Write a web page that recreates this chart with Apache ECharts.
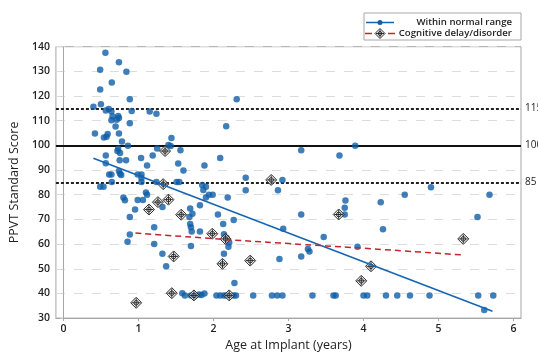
<!DOCTYPE html>
<html>
<head>
<meta charset="utf-8">
<script src="https://cdn.jsdelivr.net/npm/echarts@6/dist/echarts.min.js"></script>
<style>
  html, body { margin: 0; padding: 0; background: #fff; }
  #chart { width: 538px; height: 357px; }
</style>
</head>
<body>
<div id="chart"></div>
<script>
// PPVT standard score vs. age at cochlear implant, by cognitive status.

// Children within the normal cognitive range: [age (years), PPVT score]
const normalRange = [
  [0.56,137.5],[0.74,133.7],[0.49,130.7],[0.84,129.8],[0.645,125.5],[0.49,122.7],
  [0.885,118.7],[0.40,115.7],[0.50,116.7],[0.565,114.1],[0.605,114.8],[0.64,113.7],
  [0.91,113.9],[1.15,113.7],[1.24,112.8],[0.655,111.7],[0.73,111.9],[0.74,111.1],
  [0.64,110.2],[0.71,110.4],[0.695,107.7],[0.885,109],[0.42,104.8],[0.54,103.2],
  [0.575,103.5],[0.59,104.6],[0.74,104.8],[0.78,101.6],[0.86,99.9],[1.44,103],
  [1.40,100.2],[1.43,99.8],[1.25,98.7],[1.56,98],[0.73,98.6],[0.72,97.7],[0.755,96.9],
  [0.565,95.9],[1.035,94.9],[1.19,95.9],[2.09,94.9],[0.565,92.8],[0.75,94],[0.835,94],
  [1.115,91.9],[1.53,92.7],[1.88,91.9],[1.6,89.8],[0.61,88.2],[0.64,88.2],[0.74,89.6],
  [0.755,88.5],[0.77,88],[0.99,88.2],[1.04,88.2],[1.04,86.8],[1.04,85.2],[0.645,85.2],
  [0.49,83.2],[0.535,83.2],[1.24,85.2],[1.51,85.2],[1.545,85.2],[1.85,83.9],[1.9,83.2],
  [1.865,81.9],[1.99,80],[1.94,80],[2.19,78.9],[1.1,80.9],[1.115,80],[0.8,78.9],
  [0.82,77.8],[0.99,77.9],[1.06,77.9],[1.32,75],[1.9,78.9],[0.955,74],[0.885,71],
  [1.69,74.4],[1.72,72.3],[1.68,71],[1.82,75.7],[2.06,72],[1.69,68.1],[1.70,66.8],
  [1.71,65.1],[2.13,68.1],[2.27,69.8],[1.82,65.1],[1.21,66.8],[0.885,63.9],[0.855,60.9],
  [1.21,60],[1.70,59.2],[2.14,64],[2.175,62.6],[2.21,60.6],[2.2,58.9],[1.32,56.1],
  [1.37,51],[2.14,56.1],[2.28,44.2],[2.31,118.7],[2.17,107.8],[3.17,98],[3.68,95.9],
  [3.89,99.9],[2.43,86.9],[2.92,86],[2.86,81.8],[2.43,81.8],[3.17,72],[2.93,66.2],
  [2.88,54],[3.17,55],[3.26,58],[3.28,57],[3.47,62.9],[3.75,72],[3.75,74.7],[3.76,77.7],
  [3.92,58.9],[4.23,77],[4.9,83],[4.55,80],[5.68,80],[5.52,71],[4.26,66],[5.61,33.3],
  [1.585,40.1],[1.62,39.2],[1.70,39.2],[1.76,39.2],[1.81,39.6],[1.84,39.4],[1.88,40],
  [2.04,39.2],[2.09,39.2],[2.14,39.2],[2.175,39.2],[2.27,39.2],[2.3,39.2],[2.53,39.2],
  [2.78,39.2],[2.85,39.2],[2.92,39.2],[3.32,39.2],[3.6,39.2],[3.63,39.2],[4.0,39.2],
  [4.05,39.2],[4.3,39.2],[4.45,39.2],[4.62,39.2],[4.88,39.2],[5.53,39.2],[5.73,39.2]
];

// Children with a cognitive delay or disorder
const cognitiveDelay = [
  [1.355,97.7],[1.33,84.3],[1.26,77],[1.40,78],[1.14,74],[1.57,71.9],[1.47,55],
  [1.445,40.1],[0.97,36.2],[1.74,39.2],[2.21,39.2],[1.985,64.2],[2.16,62.1],[2.12,52],
  [2.49,53.3],[2.77,86],[3.67,72],[4.1,51],[3.97,45.1],[5.33,62.1]
];

// Fitted trend for each group
const normalFit = [[0.40,94.8],[5.72,32.8]];
const delayFit = [[0.96,64.5],[2.0,62.2],[3.0,60.2],[4.0,58.3],[5.32,55.6]];

// Reference scores: mean and +/- 1 SD
const refLines = [115, 100, 85];

const xTicks = [0, 1, 2, 3, 4, 5, 6];

const BLUE = '#0f5ea8';
const RED = '#c0272d';
const INK = '#2a2a2a';
const FONT = '"Open Sans", "DejaVu Sans", sans-serif';

const chart = echarts.init(document.getElementById('chart'), null, { renderer: 'canvas' });

// diamond-with-crosshair glyph drawn with the renderer's primitives
function crossDiamond(cx, cy, r, ring) {
  return [
    { type: 'polygon', shape: { points: [[cx, cy - r], [cx + r, cy], [cx, cy + r], [cx - r, cy]] },
      style: { fill: 'rgba(255,255,255,0.55)', stroke: INK, lineWidth: 1 } },
    { type: 'line', shape: { x1: cx, y1: cy - r + 1, x2: cx, y2: cy + r - 1 }, style: { stroke: INK, lineWidth: 1 } },
    { type: 'line', shape: { x1: cx - r + 1, y1: cy, x2: cx + r - 1, y2: cy }, style: { stroke: INK, lineWidth: 1 } },
    { type: 'circle', shape: { cx: cx, cy: cy, r: ring }, style: { fill: 'none', stroke: INK, lineWidth: 1 } }
  ];
}

chart.setOption({
  animation: false,
  backgroundColor: '#fff',
  textStyle: { fontFamily: FONT },
  grid: {
    left: 55, right: 17, top: 46.7, bottom: 32,
    show: true, borderColor: '#a6a6a6', borderWidth: 1
  },
  xAxis: {
    type: 'value',
    min: -0.1, max: 6.1,
    name: 'Age at Implant (years)',
    nameLocation: 'middle',
    nameGap: 19,
    nameTextStyle: { fontSize: 12.5, color: '#222', fontWeight: 500, fontFamily: FONT },
    axisLine: { show: true, lineStyle: { color: '#a6a6a6' } },
    axisTick: { show: true, length: 3, lineStyle: { color: '#a6a6a6' }, customValues: xTicks },
    axisLabel: { color: '#222', fontSize: 10.5, fontWeight: 600, margin: 5, customValues: xTicks },
    splitLine: { show: false }
  },
  yAxis: {
    type: 'value',
    min: 30, max: 140, interval: 10,
    name: 'PPVT Standard Score',
    nameLocation: 'middle',
    nameGap: 32,
    nameTextStyle: { fontSize: 12.5, color: '#222', fontWeight: 500, fontFamily: FONT },
    axisLine: { show: true, lineStyle: { color: '#a6a6a6' } },
    axisTick: { show: true, length: 3, lineStyle: { color: '#d0d0d0' } },
    axisLabel: { color: '#222', fontSize: 10.5, fontWeight: 600, margin: 6 },
    splitLine: { show: true, lineStyle: { color: '#dcdcdc', type: [9, 9], width: 1 } }
  },
  series: [
    {
      name: 'Within normal range',
      type: 'scatter',
      data: normalRange,
      symbol: 'circle',
      symbolSize: 6.5,
      itemStyle: { color: BLUE },
      z: 3,
      markLine: {
        silent: true,
        symbol: 'none',
        data: refLines.map(v => ({
          yAxis: v,
          lineStyle: v === 100
            ? { color: '#111', width: 2, type: 'solid' }
            : { color: '#222', width: 2, type: [3, 2] }
        })),
        label: {
          show: true, position: 'end', distance: 4,
          color: '#222', fontSize: 10, fontFamily: FONT,
          formatter: p => String(p.value)
        },
        z: 1
      }
    },
    {
      name: 'Cognitive delay/disorder',
      type: 'custom',
      data: cognitiveDelay,
      renderItem: (params, api) => {
        const p = api.coord([api.value(0), api.value(1)]);
        return { type: 'group', children: crossDiamond(p[0], p[1], 5.5, 2.3) };
      },
      encode: { x: 0, y: 1 },
      z: 4
    },
    {
      name: 'normal-fit',
      type: 'line',
      data: normalFit,
      showSymbol: false,
      lineStyle: { color: '#1565b5', width: 1.5 },
      z: 5
    },
    {
      name: 'delay-fit',
      type: 'line',
      data: delayFit,
      showSymbol: false,
      smooth: true,
      lineStyle: { color: RED, width: 1.5, type: [6, 4] },
      z: 5
    }
  ],
  graphic: [
    {
      type: 'rect',
      shape: { x: 364, y: 13, width: 157, height: 27 },
      style: { fill: '#fff', stroke: '#a6a6a6', lineWidth: 1 }
    },
    { type: 'line', shape: { x1: 366, y1: 22.5, x2: 394, y2: 22.5 }, style: { stroke: '#1565b5', lineWidth: 1.5 } },
    { type: 'circle', shape: { cx: 380, cy: 22.5, r: 2.5 }, style: { fill: BLUE } },
    {
      type: 'text', x: 512, y: 22.5,
      style: { text: 'Within normal range', align: 'right', verticalAlign: 'middle',
               fontSize: 9.6, fontWeight: 600, fill: '#222', fontFamily: FONT }
    },
    { type: 'line', shape: { x1: 365, y1: 33.5, x2: 372, y2: 33.5 }, style: { stroke: RED, lineWidth: 1.5 } },
    { type: 'line', shape: { x1: 388, y1: 33.5, x2: 395, y2: 33.5 }, style: { stroke: RED, lineWidth: 1.5 } },
    { type: 'group', children: crossDiamond(380, 33.5, 5, 2) },
    {
      type: 'text', x: 512, y: 33.5,
      style: { text: 'Cognitive delay/disorder', align: 'right', verticalAlign: 'middle',
               fontSize: 9.6, fontWeight: 600, fill: '#222', fontFamily: FONT }
    }
  ]
});
</script>
</body>
</html>
